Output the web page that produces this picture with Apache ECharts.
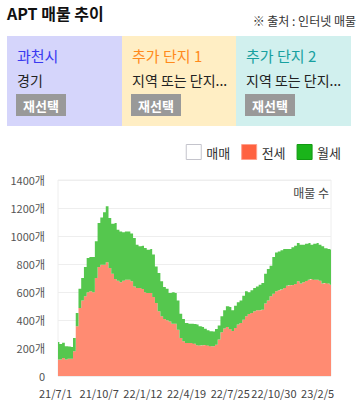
<!DOCTYPE html>
<html>
<head>
<meta charset="utf-8">
<script src="https://cdn.jsdelivr.net/npm/echarts@6/dist/echarts.min.js"></script>
<style>
html,body{margin:0;padding:0;background:#fff;}
#c{width:360px;height:406px;}
</style>
</head>
<body>
<div id="c"></div>
<script>
// Tick labels shown on the x axis (every 16th category)
var tickLabels = ['21/7/1', '21/10/7', '22/1/12', '22/4/19', '22/7/25', '22/10/30', '23/2/5'];
var tickEvery = 16;

// 전세 (jeonse) listing counts
var jeonse = [117,117,129,117,124,124,176,355,486,540,569,598,605,598,700,779,795,795,812,771,
  731,693,681,669,681,688,688,676,640,629,629,621,598,593,593,564,521,462,426,407,
  398,390,374,374,331,271,248,236,236,236,231,219,217,219,221,217,212,212,224,260,
  312,340,350,336,321,343,367,379,402,426,443,450,462,469,469,474,517,540,569,588,
  605,612,617,629,645,648,650,657,676,660,669,679,688,693,688,688,681,660,664,660,652];

// Total listing counts (전세 + 월세)
var total = [243,229,238,212,210,207,271,450,624,700,779,843,850,850,962,1093,1133,1169,1212,1129,
  1088,1093,1045,1033,1026,1033,1033,1017,986,938,926,931,914,902,907,867,783,736,676,636,
  624,593,598,593,540,445,407,379,374,374,371,367,355,350,338,326,319,317,336,360,
  426,469,498,493,469,502,526,540,574,605,598,612,629,640,652,664,731,764,788,850,
  883,890,898,907,907,907,919,931,950,938,938,945,950,938,945,950,938,926,912,907,902];

// 월세 (wolse) listing counts
var wolse = total.map(function (t, i) { return t - jeonse[i]; });
var categories = jeonse.map(function (_, i) { return i; });

var FONT = '"Noto Sans CJK KR", "Noto Sans", sans-serif';
var chart = echarts.init(document.getElementById('c'), null, {renderer: 'svg', width: 360, height: 406});

function panel(x, w, color, title, titleColor, sub) {
  return [
    {type: 'rect', left: x, top: 36, shape: {width: w, height: 90}, style: {fill: color}, z: 0},
    {type: 'text', left: x + 10, top: 48, style: {text: title, fill: titleColor, font: '15px ' + FONT}},
    {type: 'text', left: x + 10, top: 73, style: {text: sub, fill: '#222', font: '14px ' + FONT}},
    {type: 'rect', left: x + 9, top: 94, shape: {width: 50, height: 22}, style: {fill: '#999'}},
    {type: 'text', x: x + 34, y: 105, style: {text: '재선택', fill: '#fff', font: 'bold 13px ' + FONT, align: 'center', verticalAlign: 'middle'}}
  ];
}

var graphics = [
  {type: 'text', left: 7, top: 5, style: {text: 'APT 매물 추이', fill: '#111', font: 'bold 16px ' + FONT}},
  {type: 'text', x: 356, y: 20, style: {text: '※ 출처 : 인터넷 매물', fill: '#333', font: '12px ' + FONT, align: 'right', verticalAlign: 'middle'}},
  {type: 'text', x: 329, y: 192, style: {text: '매물 수', fill: '#444', font: '12px ' + FONT, align: 'right', verticalAlign: 'middle'}, z: 10}
].concat(panel(7, 115, '#d5d5fb', '과천시', '#3a3af0', '경기'))
 .concat(panel(122, 114, '#ffeec4', '추가 단지 1', '#ff8a1c', '지역 또는 단지...'))
 .concat(panel(236, 115, '#d1f0ee', '추가 단지 2', '#17a0a0', '지역 또는 단지...'));

chart.setOption({
  animation: false,
  textStyle: {fontFamily: FONT},
  graphic: graphics,
  legend: {
    right: 14, top: 139, itemWidth: 15, itemHeight: 15, itemGap: 11,
    icon: 'rect',
    textStyle: {fontSize: 13, color: '#333', fontFamily: FONT},
    selectedMode: false,
    data: [
      {name: '매매', itemStyle: {color: '#fff', borderColor: '#c4c4cc', borderWidth: 1}},
      {name: '전세', itemStyle: {color: '#ff6240', borderColor: '#ffa08c', borderWidth: 1}},
      {name: '월세', itemStyle: {color: '#1ab41a', borderColor: '#129a12', borderWidth: 1}}
    ]
  },
  grid: {left: 58, right: 29, top: 180, bottom: 30, show: true, borderColor: '#eee', borderWidth: 1},
  xAxis: {
    type: 'category', boundaryGap: false, data: categories,
    axisLine: {show: false}, axisTick: {show: false},
    axisLabel: {
      interval: tickEvery - 1, margin: 11, fontSize: 11, color: '#444', padding: [0, 5, 0, 0],
      formatter: function (v, i) { return tickLabels[i / tickEvery] || ''; }
    },
    splitLine: {show: false}
  },
  yAxis: {
    type: 'value', min: 0, max: 1400, interval: 200,
    axisLine: {show: false}, axisTick: {show: false},
    axisLabel: {
      formatter: function (v) { return v === 0 ? '0' : String(v) + '개'; },
      fontSize: 11, color: '#555', margin: 13
    },
    splitLine: {lineStyle: {color: '#eee'}}
  },
  series: [
    {name: '매매', type: 'line', stack: 'all', data: [], showSymbol: false, itemStyle: {color: '#fff'}},
    {name: '전세', type: 'line', stack: 'all', step: 'middle', data: jeonse, showSymbol: false,
      itemStyle: {color: '#ff6240'}, lineStyle: {width: 0}, areaStyle: {color: '#ff8b72', opacity: 1}},
    {name: '월세', type: 'line', stack: 'all', step: 'middle', data: wolse, showSymbol: false,
      itemStyle: {color: '#1ab41a'}, lineStyle: {width: 0}, areaStyle: {color: '#55c74e', opacity: 1}}
  ]
});
</script>
</body>
</html>
